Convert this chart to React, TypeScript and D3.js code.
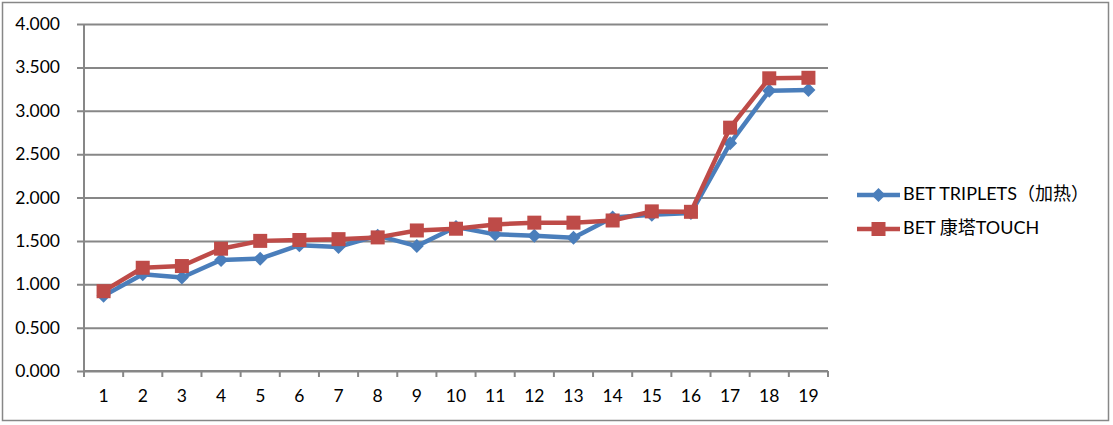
import { useEffect, useRef } from 'react';
import * as d3 from 'd3';

const categories = ['1', '2', '3', '4', '5', '6', '7', '8', '9', '10', '11', '12', '13', '14', '15', '16', '17', '18', '19'];
const triplets = [0.866, 1.115, 1.077, 1.28, 1.295, 1.45, 1.43, 1.56, 1.44, 1.66, 1.575, 1.56, 1.535, 1.77, 1.80, 1.82, 2.625, 3.23, 3.24];
const touch = [0.92, 1.19, 1.21, 1.41, 1.50, 1.51, 1.52, 1.54, 1.62, 1.64, 1.69, 1.71, 1.71, 1.735, 1.84, 1.835, 2.805, 3.374, 3.38];
const yTicks = [0, 0.5, 1, 1.5, 2, 2.5, 3, 3.5, 4];
const seriesNames = ['BET TRIPLETS（加热）', 'BET 康塔TOUCH'];

const BLUE = '#4a7ebb';
const RED = '#be4b48';
const GRID = '#878787';
const FONT = 'Lato, "Noto Sans CJK SC", sans-serif';

export default function App() {
	const svgRef = useRef<SVGSVGElement>(null);

	useEffect(() => {
		const svg = d3.select(svgRef.current);
		svg.selectAll('*').remove();

		const left = 84, right = 828, top = 24, bottom = 371;

		const x = d3.scaleBand().domain(categories).range([left, right]);
		const y = d3.scaleLinear().domain([0, 4]).range([bottom, top]);

		// outer frame
		svg.append('rect')
			.attr('x', 2.5).attr('y', 2.5)
			.attr('width', 1106).attr('height', 418)
			.attr('fill', 'white')
			.attr('stroke', GRID)
			.attr('stroke-width', 1.5);

		// gridlines + y labels
		const yAxis = d3.axisLeft(y)
			.tickValues(yTicks)
			.tickSize(-(right - left))
			.tickFormat(d => d3.format('.3f')(d as number));
		const gy = svg.append('g').attr('transform', `translate(${left},0)`).call(yAxis);
		gy.select('.domain').remove();
		gy.selectAll('.tick line')
			.attr('x1', -7)
			.attr('stroke', GRID)
			.attr('stroke-width', 2);
		gy.selectAll('.tick text')
			.attr('x', -24)
			.attr('fill', '#000')
			.style('font-family', FONT)
			.style('font-size', '17.5px');

		// y axis line
		svg.append('line')
			.attr('x1', left).attr('x2', left)
			.attr('y1', top).attr('y2', bottom)
			.attr('stroke', GRID).attr('stroke-width', 2);

		// x axis: ticks between categories
		const gx = svg.append('g').attr('transform', `translate(0,${bottom})`);
		gx.append('line')
			.attr('x1', left).attr('x2', right)
			.attr('stroke', GRID).attr('stroke-width', 2);
		gx.selectAll('line.tk')
			.data(d3.range(categories.length + 1))
			.join('line')
			.attr('class', 'tk')
			.attr('x1', i => left + i * x.step())
			.attr('x2', i => left + i * x.step())
			.attr('y1', 0).attr('y2', 6)
			.attr('stroke', GRID).attr('stroke-width', 2);
		gx.selectAll('text')
			.data(categories)
			.join('text')
			.attr('x', d => x(d)! + x.bandwidth() / 2)
			.attr('y', 27)
			.attr('text-anchor', 'middle')
			.attr('dominant-baseline', 'middle')
			.style('font-family', FONT)
			.style('font-size', '17.5px')
			.text(d => d);

		const line = d3.line<number>()
			.x((_, i) => x(categories[i])! + x.bandwidth() / 2)
			.y(d => y(d));

		const diamond = (cx: number, cy: number, r: number) =>
			`M${cx},${cy - r}L${cx + r},${cy}L${cx},${cy + r}L${cx - r},${cy}Z`;

		// series 1: blue diamonds
		svg.append('path')
			.attr('d', line(triplets))
			.attr('fill', 'none')
			.attr('stroke', BLUE)
			.attr('stroke-width', 4.5)
			.attr('stroke-linejoin', 'round');
		svg.selectAll('path.dm')
			.data(triplets)
			.join('path')
			.attr('class', 'dm')
			.attr('d', (d, i) => diamond(x(categories[i])! + x.bandwidth() / 2, y(d), 7))
			.attr('fill', BLUE);

		// series 2: red squares
		svg.append('path')
			.attr('d', line(touch))
			.attr('fill', 'none')
			.attr('stroke', RED)
			.attr('stroke-width', 4.5)
			.attr('stroke-linejoin', 'round');
		svg.selectAll('rect.sq')
			.data(touch)
			.join('rect')
			.attr('class', 'sq')
			.attr('x', (_, i) => x(categories[i])! + x.bandwidth() / 2 - 7)
			.attr('y', d => y(d) - 7)
			.attr('width', 14).attr('height', 14)
			.attr('fill', RED);

		// legend
		const legend = svg.append('g');
		const rows = [
			{ name: seriesNames[0], color: BLUE, shape: 'diamond', y: 195 },
			{ name: seriesNames[1], color: RED, shape: 'square', y: 229 },
		];
		rows.forEach(r => {
			legend.append('line')
				.attr('x1', 857).attr('x2', 900)
				.attr('y1', r.y).attr('y2', r.y)
				.attr('stroke', r.color).attr('stroke-width', 4.5);
			if (r.shape === 'diamond') {
				legend.append('path').attr('d', diamond(878.5, r.y, 7)).attr('fill', r.color);
			} else {
				legend.append('rect')
					.attr('x', 871.5).attr('y', r.y - 7)
					.attr('width', 14).attr('height', 14)
					.attr('fill', r.color);
			}
			legend.append('text')
				.attr('x', 903)
				.attr('y', r.y)
				.attr('dominant-baseline', 'middle')
				.style('font-family', FONT)
				.style('font-size', '18px')
				.text(r.name);
		});
	}, []);

	return <svg ref={svgRef} width={1113} height={425} style={{ position: 'absolute', left: 0, top: 0 }} />;
}
